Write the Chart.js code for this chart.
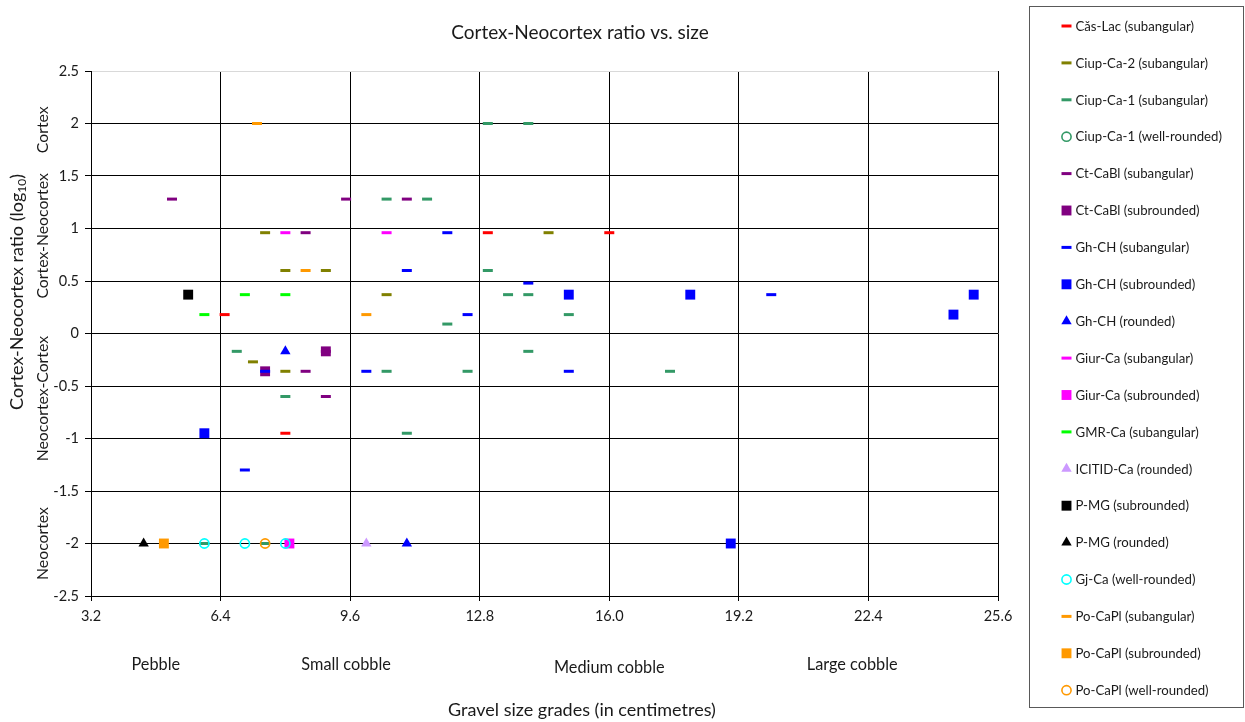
<!DOCTYPE html>
<html>
<head>
<meta charset="utf-8">
<script src="https://cdn.jsdelivr.net/npm/chart.js@4.4.1/dist/chart.umd.min.js"></script>
<style>
  html, body { margin: 0; padding: 0; background: #ffffff; }
  canvas { display: block; }
</style>
</head>
<body>
<canvas id="chart" width="1245" height="722"></canvas>
<script>
// Axis ticks and text
const xTicks = [3.2, 6.4, 9.6, 12.8, 16.0, 19.2, 22.4, 25.6];
const yTicks = [2.5, 2, 1.5, 1, 0.5, 0, -0.5, -1, -1.5, -2, -2.5];
const sizeGrades = ['Pebble', 'Small cobble', 'Medium cobble', 'Large cobble'];
const ratioZones = ['Cortex', 'Cortex-Neocortex', 'Neocortex-Cortex', 'Neocortex'];

// Series names (legend order)
const seriesNames = [
  'Căs-Lac (subangular)', 'Ciup-Ca-2 (subangular)', 'Ciup-Ca-1 (subangular)',
  'Ciup-Ca-1 (well-rounded)', 'Ct-CaBl (subangular)', 'Ct-CaBl (subrounded)',
  'Gh-CH (subangular)', 'Gh-CH (subrounded)', 'Gh-CH (rounded)',
  'Giur-Ca (subangular)', 'Giur-Ca (subrounded)', 'GMR-Ca (subangular)',
  'ICITID-Ca (rounded)', 'P-MG (subrounded)', 'P-MG (rounded)',
  'Gj-Ca (well-rounded)', 'Po-CaPl (subangular)', 'Po-CaPl (subrounded)',
  'Po-CaPl (well-rounded)'
];

// [size in cm, log10 cortex/neocortex ratio]
const casLacSubang = [[6.5, 0.18], [8.0, -0.95], [13.0, 0.96], [16.0, 0.96]];
const ciupCa2Subang = [[7.5, 0.96], [8.0, 0.6], [9.0, 0.6], [10.5, 0.37], [7.2, -0.27], [8.0, -0.36], [14.5, 0.96]];
const ciupCa1Subang = [[13.0, 2.0], [14.0, 2.0], [10.5, 1.28], [11.5, 1.28], [13.0, 0.6], [13.5, 0.37],
  [14.0, 0.37], [15.0, 0.18], [12.0, 0.09], [6.8, -0.17], [14.0, -0.17], [10.5, -0.36], [12.5, -0.36],
  [17.5, -0.36], [8.0, -0.6], [11.0, -0.95], [6.0, -2.0], [7.5, -2.0]];
const ciupCa1WellRounded = [];
const ctCaBlSubang = [[5.2, 1.28], [9.5, 1.28], [11.0, 1.28], [8.5, 0.96], [9.0, -0.17], [8.5, -0.36], [9.0, -0.6]];
const ctCaBlSubrounded = [[7.5, -0.36], [9.0, -0.17]];
const ghChSubang = [[12.0, 0.96], [11.0, 0.6], [14.0, 0.48], [20.0, 0.37], [12.5, 0.18], [7.5, -0.36],
  [10.0, -0.36], [15.0, -0.36], [7.0, -1.3]];
const ghChSubrounded = [[15.0, 0.37], [18.0, 0.37], [25.0, 0.37], [24.5, 0.18], [6.0, -0.95], [19.0, -2.0]];
const ghChRounded = [[8.0, -0.17], [11.0, -2.0]];
const giurCaSubang = [[8.0, 0.96], [10.5, 0.96]];
const giurCaSubrounded = [[8.1, -2.0]];
const gmrCaSubang = [[7.0, 0.37], [8.0, 0.37], [6.0, 0.18]];
const icitidCaRounded = [[10.0, -2.0]];
const pMgSubrounded = [[5.6, 0.37]];
const pMgRounded = [[4.5, -2.0]];
const gjCaWellRounded = [[6.0, -2.0], [7.0, -2.0], [8.0, -2.0]];
const poCaPlSubang = [[7.3, 2.0], [8.5, 0.6], [10.0, 0.18]];
const poCaPlSubrounded = [[5.0, -2.0]];
const poCaPlWellRounded = [[7.5, -2.0]];

const seriesData = [
  casLacSubang, ciupCa2Subang, ciupCa1Subang, ciupCa1WellRounded, ctCaBlSubang, ctCaBlSubrounded,
  ghChSubang, ghChSubrounded, ghChRounded, giurCaSubang, giurCaSubrounded, gmrCaSubang,
  icitidCaRounded, pMgSubrounded, pMgRounded, gjCaWellRounded, poCaPlSubang, poCaPlSubrounded,
  poCaPlWellRounded
];

// Marker look per series
const MARK = {
  dash:     { pointStyle: 'line', radius: 5, borderWidth: 3, fill: false },
  square:   { pointStyle: 'rect', radius: 7, borderWidth: 0, fill: true },
  triangle: { pointStyle: 'triangle', radius: 6, borderWidth: 0, fill: true },
  ring:     { pointStyle: 'circle', radius: 4.6, borderWidth: 1.6, fill: false }
};
const seriesLook = [
  ['dash', '#ff0000'], ['dash', '#808000'], ['dash', '#339966'], ['ring', '#339966'],
  ['dash', '#800080'], ['square', '#800080'], ['dash', '#0000ff'], ['square', '#0000ff'],
  ['triangle', '#0000ff'], ['dash', '#ff00ff'], ['square', '#ff00ff'], ['dash', '#00ff00'],
  ['triangle', '#cc99ff'], ['square', '#000000'], ['triangle', '#000000'], ['ring', '#00ffff'],
  ['dash', '#ff9900'], ['square', '#ff9900'], ['ring', '#ff9900']
];

const FONT = 'Lato, "Open Sans", sans-serif';
const TEXT = '#1a1a1a';

const datasets = seriesNames.map((name, i) => {
  const [kind, color] = seriesLook[i];
  const m = MARK[kind];
  return {
    label: name,
    data: seriesData[i].map(p => ({ x: p[0], y: p[1] })),
    showLine: false,
    pointStyle: m.pointStyle,
    pointRadius: m.radius,
    pointHoverRadius: m.radius,
    pointBorderWidth: m.borderWidth,
    pointBorderColor: color,
    pointBackgroundColor: m.fill ? color : 'rgba(0,0,0,0)',
    order: seriesNames.length - i   // later series are drawn on top
  };
});

// Drawing a single marker (used for the legend)
function drawMarker(ctx, kind, color, x, y) {
  const m = MARK[kind];
  ctx.save();
  ctx.fillStyle = m.fill ? color : 'rgba(0,0,0,0)';
  ctx.strokeStyle = color;
  ctx.lineWidth = m.borderWidth;
  Chart.helpers.drawPoint(ctx, {
    pointStyle: m.pointStyle, radius: m.radius, borderWidth: m.borderWidth, rotation: 0
  }, x, y);
  ctx.restore();
}

const annotations = {
  id: 'annotations',
  afterDraw(chart) {
    const ctx = chart.ctx;
    const xs = chart.scales.x, ys = chart.scales.y;
    ctx.save();
    ctx.fillStyle = TEXT;
    ctx.textBaseline = 'middle';
    ctx.textAlign = 'center';

    // chart title
    ctx.font = '19px ' + FONT;
    ctx.fillText('Cortex-Neocortex ratio vs. size', 580, 33);

    // gravel grade names under the size axis
    ctx.font = '16.3px ' + FONT;
    const gradeAt = [4.8, 9.5, 16.0, 22.0];
    const gradeY = [665, 665, 668, 665];
    sizeGrades.forEach((g, i) => ctx.fillText(g, xs.getPixelForValue(gradeAt[i]), gradeY[i]));

    // size axis title
    ctx.font = '18px ' + FONT;
    ctx.fillText('Gravel size grades (in centimetres)', 582, 710);

    // ratio zone names beside the value axis
    ctx.font = '15.8px ' + FONT;
    const zoneAt = [1.94, 0.93, -0.62, -2.0];
    ratioZones.forEach((z, i) => {
      ctx.save();
      ctx.translate(43, ys.getPixelForValue(zoneAt[i]));
      ctx.rotate(-Math.PI / 2);
      ctx.fillText(z, 0, 0);
      ctx.restore();
    });

    // value axis title with subscript
    const main = 'Cortex-Neocortex ratio (log', sub = '10', tail = ')';
    const bigF = '18px ' + FONT, smallF = '12px ' + FONT;
    ctx.font = bigF; const w1 = ctx.measureText(main).width, w3 = ctx.measureText(tail).width;
    ctx.font = smallF; const w2 = ctx.measureText(sub).width;
    const total = w1 + w2 + w3;
    ctx.save();
    ctx.translate(17, 292);
    ctx.rotate(-Math.PI / 2);
    ctx.textAlign = 'left';
    let cx = -total / 2;
    ctx.font = bigF; ctx.fillText(main, cx, 0); cx += w1;
    ctx.font = smallF; ctx.fillText(sub, cx, 5); cx += w2;
    ctx.font = bigF; ctx.fillText(tail, cx, 0);
    ctx.restore();

    // legend box
    ctx.strokeStyle = '#595959';
    ctx.lineWidth = 1;
    ctx.strokeRect(1029.5, 6.5, 214, 701);
    ctx.font = '13.2px ' + FONT;
    ctx.textAlign = 'left';
    seriesNames.forEach((name, i) => {
      const y = 26 + i * 36.9;
      drawMarker(ctx, seriesLook[i][0], seriesLook[i][1], 1066.5, y);
      ctx.fillStyle = TEXT;
      ctx.fillText(name, 1075.5, y + 0.5);
    });
    ctx.restore();
  }
};

const gridColor = c => (c.tick && c.tick.value === 2.5) ? '#d9d9d9' : '#000000';

new Chart(document.getElementById('chart').getContext('2d'), {
  type: 'scatter',
  data: { datasets },
  options: {
    responsive: false,
    animation: false,
    events: [],
    layout: { padding: { top: 71, right: 247, bottom: 0, left: 0 } },
    plugins: { legend: { display: false }, tooltip: { enabled: false }, title: { display: false } },
    scales: {
      x: {
        type: 'linear',
        min: xTicks[0],
        max: xTicks[xTicks.length - 1],
        afterBuildTicks: s => { s.ticks = xTicks.map(v => ({ value: v })); },
        afterFit: s => { s.height = 126; },
        ticks: {
          callback: v => Number(v).toFixed(1),
          color: TEXT, font: { family: FONT, size: 14.5 },
          padding: 7, maxRotation: 0, autoSkip: false
        },
        grid: { color: '#000000', lineWidth: 1, tickLength: 5, tickColor: '#000000' },
        border: { color: '#000000', width: 1 }
      },
      y: {
        type: 'linear',
        min: yTicks[yTicks.length - 1],
        max: yTicks[0],
        afterBuildTicks: s => { s.ticks = yTicks.slice().reverse().map(v => ({ value: v })); },
        afterFit: s => { s.width = 91; },
        ticks: {
          callback: v => String(v),
          color: TEXT, font: { family: FONT, size: 14.5 },
          padding: 6, autoSkip: false
        },
        grid: { color: gridColor, lineWidth: 1, tickLength: 6, tickColor: '#000000' },
        border: { color: '#000000', width: 1 }
      }
    }
  },
  plugins: [annotations]
});
</script>
</body>
</html>
